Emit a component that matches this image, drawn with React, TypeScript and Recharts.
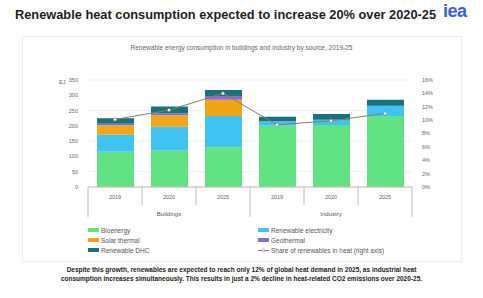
import React from 'react';
import { ComposedChart, Bar, Line, XAxis, YAxis, CartesianGrid } from 'recharts';

const years = ['2019', '2020', '2025', '2019', '2020', '2025'];
const groups = ['Buildings', 'Buildings', 'Buildings', 'Industry', 'Industry', 'Industry'];
const bioenergy = [115, 119, 130, 200, 203, 232];
const renewableElectricity = [57, 78, 102, 14, 16, 33];
const solarThermal = [30, 38, 53, 0, 0, 0];
const geothermal = [5, 6, 13, 1, 1, 1];
const renewableDHC = [18, 22, 19, 15, 19, 19];
const shareRenewables = [10.1, 11.5, 14.0, 9.3, 9.9, 11.0];

const leftTicks = [0, 50, 100, 150, 200, 250, 300, 350];
const rightTicks = [0, 2, 4, 6, 8, 10, 12, 14, 16];

const series = [
  { key: 'bio', name: 'Bioenergy', color: '#62e383' },
  { key: 'elec', name: 'Renewable electricity', color: '#3fc4f2' },
  { key: 'solar', name: 'Solar thermal', color: '#f3a517' },
  { key: 'geo', name: 'Geothermal', color: '#8b6cc9' },
  { key: 'dhc', name: 'Renewable DHC', color: '#17727e' },
];

const data = years.map((y, i) => ({
  id: i,
  year: y,
  group: groups[i],
  bio: bioenergy[i],
  elec: renewableElectricity[i],
  solar: solarThermal[i],
  geo: geothermal[i],
  dhc: renewableDHC[i],
  share: shareRenewables[i],
}));

const YearTick = (props: any) => {
  const { x, y, payload, index } = props;
  const half = payload && payload.offset ? payload.offset : 27;
  const left = x - half;
  const right = x + half;
  const isGroupStart = index === 0 || index === 3;
  const isMid = index === 1 || index === 4;
  return (
    <g>
      <line x1={left} x2={left} y1={y} y2={y + (isGroupStart ? 30 : 18)} stroke="#c9b6b6" strokeWidth={1} />
      {index === data.length - 1 && (
        <line x1={right} x2={right} y1={y} y2={y + 30} stroke="#c9b6b6" strokeWidth={1} />
      )}
      <text x={x} y={y + 12} textAnchor="middle" fontSize={5.5} fill="#666" fontFamily="Liberation Sans, Arial, sans-serif">
        {years[index]}
      </text>
      {isMid && (
        <text x={x} y={y + 29} textAnchor="middle" fontSize={6} fill="#555" fontFamily="Liberation Sans, Arial, sans-serif">
          {groups[index]}
        </text>
      )}
    </g>
  );
};

const legendItems = [
  series[0],
  series[1],
  series[2],
  series[3],
  series[4],
  { key: 'share', name: 'Share of renewables in heat (right axis)', color: '#8c7b6b' },
];

export default function App() {
  return (
    <div style={{ position: 'absolute', left: 0, top: 0, width: 483, height: 298, background: '#fff', fontFamily: 'Liberation Sans, Arial, sans-serif', overflow: 'hidden' }}>
      <div style={{ position: 'absolute', left: 15, top: 7, fontSize: 12.8, fontWeight: 700, color: '#1e1e1e', whiteSpace: 'nowrap' }}>
        Renewable heat consumption expected to increase 20% over 2020-25
      </div>
      <div style={{ position: 'absolute', left: 443, top: 1, fontSize: 18, fontWeight: 700, color: '#3560df', letterSpacing: -0.5, whiteSpace: 'nowrap' }}>
        iea
      </div>
      <div style={{ position: 'absolute', left: 22, top: 36, width: 440, height: 226, border: '1px solid #ececec', boxSizing: 'border-box' }} />
      <div style={{ position: 'absolute', left: 0, width: 483, top: 44, textAlign: 'center', fontSize: 6.5, color: '#666' }}>
        Renewable energy consumption in buildings and industry by source, 2019-25
      </div>
      <div style={{ position: 'absolute', left: 59, top: 79, fontSize: 5.5, color: '#666' }}>EJ</div>
      <div style={{ position: 'absolute', left: 0, top: 70 }}>
        <ComposedChart width={483} height={150} data={data} margin={{ top: 10, right: 41, bottom: 0, left: 58 }}>
          <CartesianGrid vertical={false} stroke="#f1eeee" yAxisId="left" />
          <XAxis dataKey="id" xAxisId={0} height={33} tickLine={false} tickSize={0} tickMargin={0} axisLine={{ stroke: '#c9b6b6' }} tick={<YearTick />} interval={0} />
          <YAxis yAxisId="left" width={30} domain={[0, 350]} ticks={leftTicks} tickLine={false} axisLine={false} tick={{ fontSize: 5.5, fill: '#666' }} tickMargin={4} />
          <YAxis yAxisId="right" orientation="right" width={30} domain={[0, 16]} ticks={rightTicks} tickLine={false} axisLine={false} tick={{ fontSize: 5.5, fill: '#666' }} tickFormatter={(v: number) => `${v}%`} tickMargin={4} />
          {series.map((s) => (
            <Bar key={s.key} yAxisId="left" dataKey={s.key} name={s.name} stackId="a" fill={s.color} barSize={37} isAnimationActive={false} />
          ))}
          <Line yAxisId="right" dataKey="share" name="Share of renewables in heat (right axis)" stroke="#8c7b6b" strokeWidth={1} dot={{ r: 1.6, fill: '#fff', stroke: '#8c7b6b', strokeWidth: 0.6 }} isAnimationActive={false} />
        </ComposedChart>
      </div>
      <div style={{ position: 'absolute', left: 88, top: 226, width: 360, display: 'grid', gridTemplateColumns: '170px 190px', rowGap: 2, fontSize: 6.5, color: '#555' }}>
        {legendItems.map((it) => (
          <div key={it.key} style={{ display: 'flex', alignItems: 'center', height: 8, whiteSpace: 'nowrap' }}>
            {it.key === 'share' ? (
              <svg width={11} height={5} style={{ marginRight: 2 }}>
                <line x1={0} x2={11} y1={2.5} y2={2.5} stroke={it.color} strokeWidth={1} />
                <circle cx={5.5} cy={2.5} r={1.5} fill="#fff" stroke={it.color} strokeWidth={0.6} />
              </svg>
            ) : (
              <div style={{ width: 11, height: 4, background: it.color, marginRight: 2 }} />
            )}
            {it.name}
          </div>
        ))}
      </div>
      <div style={{ position: 'absolute', left: 0, width: 483, top: 265, textAlign: 'center', fontSize: 6.5, fontWeight: 700, color: '#222', lineHeight: '9px' }}>
        Despite this growth, renewables are expected to reach only 12% of global heat demand in 2025, as industrial heat
        <br />
        consumption increases simultaneously. This results in just a 2% decline in heat-related CO2 emissions over 2020-25.
      </div>
    </div>
  );
}
